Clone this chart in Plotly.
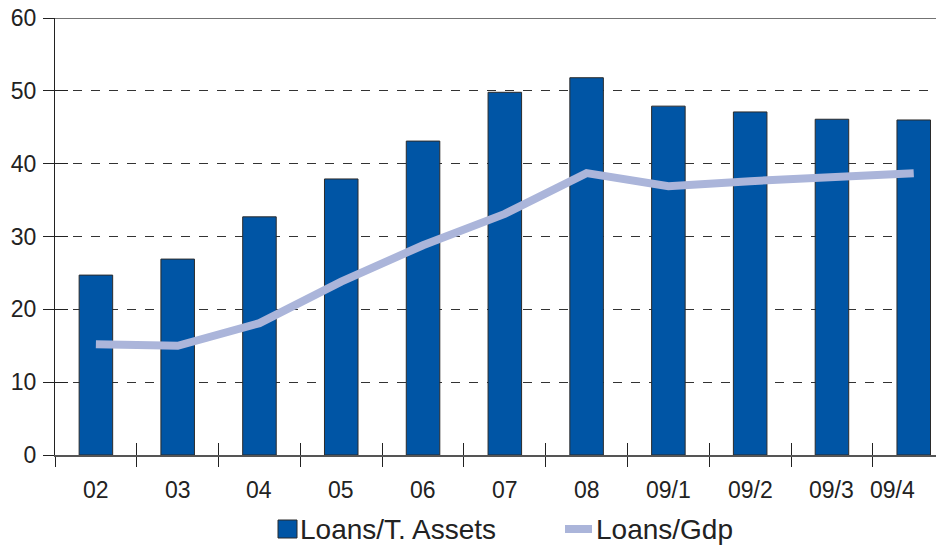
import plotly.graph_objects as go

categories = ["02", "03", "04", "05", "06", "07", "08", "09/1", "09/2", "09/3", "09/4"]
loans_assets = [24.7, 26.9, 32.7, 37.9, 43.1, 49.8, 51.8, 47.9, 47.1, 46.1, 46.0]
loans_gdp = [15.2, 15.0, 18.1, 23.8, 28.8, 33.1, 38.7, 36.9, 37.6, 38.2, 38.7]
y_ticks = [0, 10, 20, 30, 40, 50, 60]
legend_names = ["Loans/T. Assets", "Loans/Gdp"]

BLUE = "#0055a5"
LINE = "#abb5da"
TXT = "#222222"
FONT = "Liberation Sans, Arial, sans-serif"

OFF = 8  # page body margin in the browser
W, H = 944, 545
L, T = 55 - OFF, 18 - OFF
R = W - (944 - OFF)
B = H - (455 - OFF)
PW, PH = W - L - R, H - T - B


def px(x):
    return (x - OFF - L) / PW


def py(y):
    return (H - B - (y - OFF)) / PH


XR = [-0.5, 10.37]

fig = go.Figure()
fig.add_trace(go.Bar(x=categories, y=loans_assets, width=0.41,
                     marker=dict(color=BLUE, line=dict(color="#2b2b2b", width=1)),
                     showlegend=False, name=legend_names[0]))
fig.add_trace(go.Scatter(x=categories, y=loans_gdp, mode="lines",
                         line=dict(color=LINE, width=8), showlegend=False,
                         name=legend_names[1]))
# invisible trace to carry the overlay axes (inside tick halves)
fig.add_trace(go.Scatter(x=categories, y=[None] * len(categories), xaxis="x2", yaxis="y2",
                         mode="lines", showlegend=False, hoverinfo="skip"))

annotations = []
for i, c in enumerate(categories):
    shift = -21 if i == len(categories) - 1 else 0
    annotations.append(dict(x=i, y=0, xref="x", yref="y", text=c, showarrow=False,
                            yanchor="middle", yshift=-35, xshift=shift,
                            font=dict(size=23, color=TXT)))

# manual legend
annotations.append(dict(x=px(298), y=py(529), xref="paper", yref="paper", xanchor="left",
                        yanchor="middle", text=legend_names[0], showarrow=False,
                        font=dict(size=28, color=TXT)))
annotations.append(dict(x=px(594), y=py(529), xref="paper", yref="paper", xanchor="left",
                        yanchor="middle", text=legend_names[1], showarrow=False,
                        font=dict(size=28, color=TXT)))

shapes = [
    dict(type="line", xref="paper", yref="y", x0=0, x1=1, y0=60, y1=60,
         line=dict(color="#444444", width=1.5)),
    dict(type="rect", xref="paper", yref="paper", x0=px(278), x1=px(297),
         y0=py(538), y1=py(520), fillcolor=BLUE, line=dict(color="#2b2b2b", width=1)),
    dict(type="line", xref="paper", yref="paper", x0=px(565), x1=px(592),
         y0=py(529), y1=py(529), line=dict(color=LINE, width=8)),
]

fig.update_layout(
    width=W, height=H,
    margin=dict(l=L, r=R, t=T, b=B),
    paper_bgcolor="white", plot_bgcolor="white",
    font=dict(family=FONT, size=22, color=TXT),
    showlegend=False,
    xaxis=dict(type="category", range=XR, showgrid=False, automargin=False,
               showline=True, linecolor="#555555", linewidth=1.5,
               ticks="outside", ticklen=10, tickcolor=TXT, tickwidth=1,
               tickson="boundaries", showticklabels=False),
    xaxis2=dict(type="category", range=XR, overlaying="x", anchor="y2", side="bottom",
                showgrid=False, automargin=False, showline=False,
                ticks="inside", ticklen=12, tickcolor=TXT, tickwidth=1,
                tickson="boundaries", showticklabels=False),
    yaxis=dict(range=[0, 60], tickvals=y_ticks, showgrid=True, automargin=False,
               gridcolor="#333333", griddash="dash", gridwidth=1,
               showline=True, linecolor="#222222", linewidth=1,
               ticks="outside", ticklen=11, tickcolor=TXT, ticklabelstandoff=2,
               ticklabeloverflow="allow",
               zeroline=False, tickfont=dict(size=23, color=TXT)),
    yaxis2=dict(range=[0, 60], tickvals=y_ticks, overlaying="y", anchor="x2", side="left",
                showgrid=False, automargin=False, showline=False, zeroline=False,
                ticks="inside", ticklen=13, tickcolor=TXT, showticklabels=False),
    annotations=annotations,
    shapes=shapes,
)

fig.write_html("out.html")
